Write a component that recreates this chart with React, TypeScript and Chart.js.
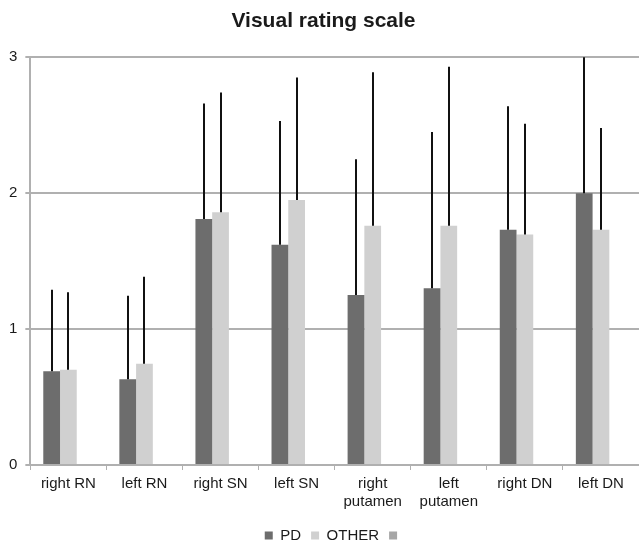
import React, { useEffect, useRef } from "react";
import { Chart, registerables } from "chart.js";

Chart.register(...registerables);

const categories: (string | string[])[] = [
  "right RN",
  "left RN",
  "right SN",
  "left SN",
  ["right", "putamen"],
  ["left", "putamen"],
  "right DN",
  "left DN",
];
const pdValues = [0.69, 0.63, 1.81, 1.62, 1.25, 1.3, 1.73, 2.0];
const pdErrors = [0.6, 0.615, 0.85, 0.91, 1.0, 1.15, 0.91, 1.0];
const otherValues = [0.7, 0.745, 1.86, 1.95, 1.76, 1.76, 1.695, 1.73];
const otherErrors = [0.57, 0.64, 0.88, 0.9, 1.13, 1.17, 0.815, 0.75];
const thirdValues = [0, 0, 0, 0, 0, 0, 0, 0];
const yTicks = [0, 1, 2, 3];

const FONT = "'Liberation Sans', Arial, sans-serif";

const errorBarPlugin = {
  id: "errorBars",
  afterDatasetsDraw(chart: any) {
    const ctx = chart.ctx;
    const yScale = chart.scales.y;
    const errs = [pdErrors, otherErrors];
    const vals = [pdValues, otherValues];
    ctx.save();
    ctx.strokeStyle = "#111111";
    ctx.lineWidth = 2;
    for (let d = 0; d < 2; d++) {
      const meta = chart.getDatasetMeta(d);
      meta.data.forEach((bar: any, i: number) => {
        const top = yScale.getPixelForValue(vals[d][i] + errs[d][i]);
        const x = Math.round(bar.x);
        ctx.beginPath();
        ctx.moveTo(x, bar.y);
        ctx.lineTo(x, top);
        ctx.stroke();
      });
    }
    ctx.restore();
  },
};

export default function App() {
  const ref = useRef<HTMLCanvasElement | null>(null);
  useEffect(() => {
    if (!ref.current) return;
    const chart = new Chart(ref.current, {
      type: "bar",
      data: {
        labels: categories,
        datasets: [
          { label: "PD", data: pdValues, backgroundColor: "#6d6d6d" },
          { label: "OTHER", data: otherValues, backgroundColor: "#d0d0d0" },
          { label: "", data: thirdValues, backgroundColor: "#a6a6a6" },
        ],
      },
      options: {
        animation: false,
        responsive: false,
        maintainAspectRatio: false,
        layout: { padding: { left: 1, right: -7, top: 7, bottom: -10 } },
        datasets: {
          bar: { categoryPercentage: 0.66, barPercentage: 1.0 },
        },
        plugins: {
          title: {
            display: true,
            text: "Visual rating scale",
            color: "#1a1a1a",
            font: { family: FONT, size: 21, weight: "bold" },
            padding: { top: 2, bottom: 23 },
          },
          legend: {
            position: "bottom",
            fullSize: false,
            labels: {
              color: "#1a1a1a",
              font: { family: FONT, size: 15 },
              boxWidth: 8,
              boxHeight: 8,
              padding: 10,
            },
          },
          tooltip: { enabled: false },
        },
        scales: {
          x: {
            afterFit: (axis: any) => {
              axis.height += 2;
            },
            grid: {
              display: true,
              drawOnChartArea: false,
              drawTicks: true,
              tickLength: 5,
              color: "#b0b0b0",
              offset: true,
            },
            border: { color: "#b0b0b0", width: 2 },
            ticks: {
              color: "#1a1a1a",
              font: { family: FONT, size: 15 },
              maxRotation: 0,
              autoSkip: false,
              padding: 5,
            },
          },
          y: {
            min: 0,
            max: 3,
            afterBuildTicks: (axis: any) => {
              axis.ticks = yTicks.map((v) => ({ value: v }));
            },
            grid: { color: "#b0b0b0", lineWidth: 2, tickLength: 5 },
            border: { color: "#b0b0b0", width: 2 },
            ticks: {
              color: "#1a1a1a",
              font: { family: FONT, size: 15 },
              padding: 8,
            },
          },
        },
      },
      plugins: [errorBarPlugin],
    } as any);
    return () => chart.destroy();
  }, []);
  return (
    <div style={{ position: "absolute", left: 0, top: 0, width: 639, height: 543, background: "#fff", overflow: "hidden" }}>
      <canvas ref={ref} width={639} height={543} />
    </div>
  );
}
